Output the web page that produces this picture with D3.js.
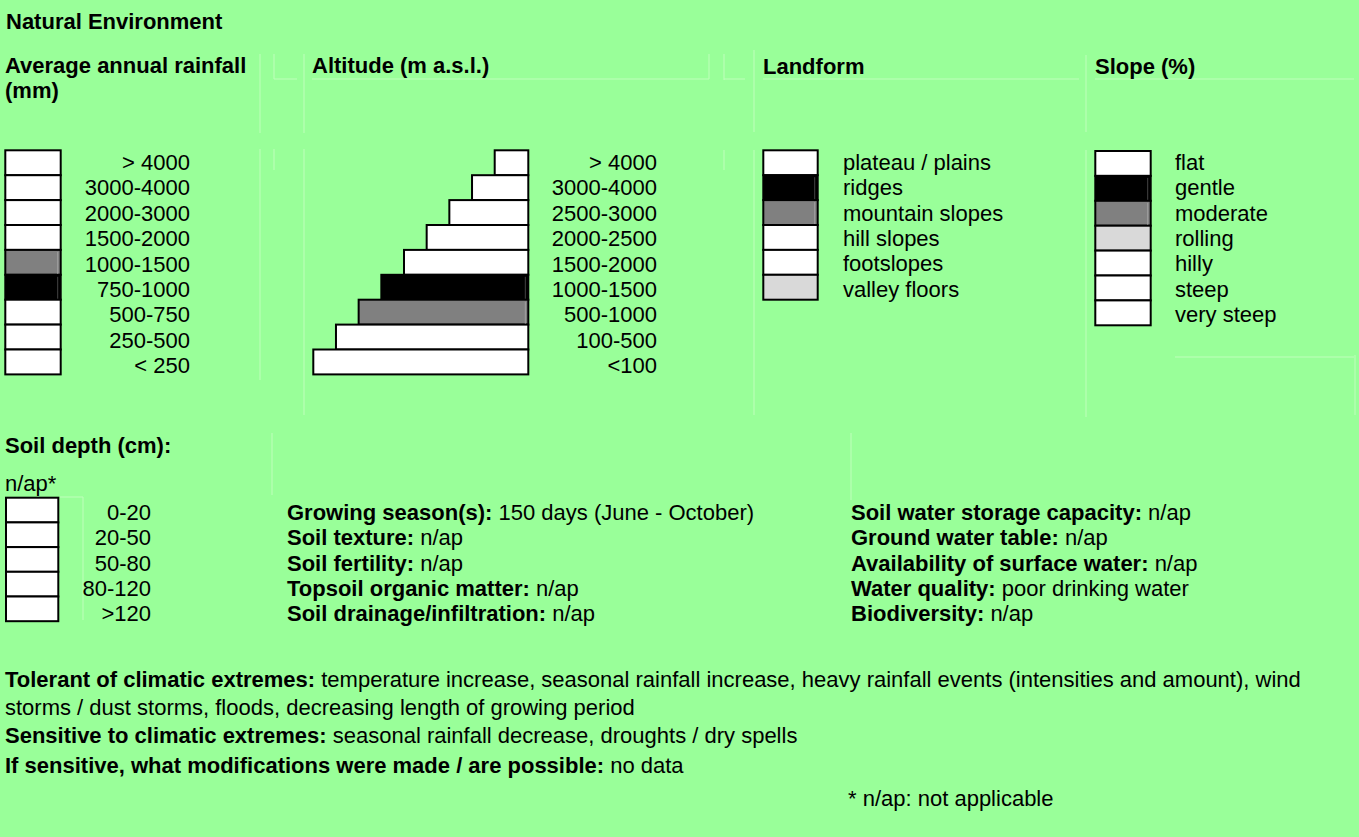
<!DOCTYPE html>
<html>
<head>
<meta charset="utf-8">
<script src="https://cdn.jsdelivr.net/npm/d3@7/dist/d3.min.js"></script>
<style>
  html, body { margin: 0; padding: 0; background: #99ff99; }
  svg { display: block; }
  text { font-family: "Liberation Sans", Arial, sans-serif; font-size: 22px; fill: #000; }
  .b { font-weight: bold; }
</style>
</head>
<body>
<svg id="sheet" width="1359" height="837"></svg>
<script>
// ---- Data: classes and their rating (0 = not applicable, 1 = main, 2 = secondary, 3 = minor) ----
const rainfallClasses = ["> 4000", "3000-4000", "2000-3000", "1500-2000", "1000-1500", "750-1000", "500-750", "250-500", "< 250"];
const rainfallRating  = [0, 0, 0, 0, 2, 1, 0, 0, 0];

const altitudeClasses = ["> 4000", "3000-4000", "2500-3000", "2000-2500", "1500-2000", "1000-1500", "500-1000", "100-500", "<100"];
const altitudeRating  = [0, 0, 0, 0, 0, 1, 2, 0, 0];

const landformClasses = ["plateau / plains", "ridges", "mountain slopes", "hill slopes", "footslopes", "valley floors"];
const landformRating  = [0, 1, 2, 0, 0, 3];

const slopeClasses = ["flat", "gentle", "moderate", "rolling", "hilly", "steep", "very steep"];
const slopeRating  = [0, 1, 2, 3, 0, 0, 0];

const soilDepthClasses = ["0-20", "20-50", "50-80", "80-120", ">120"];
const soilDepthRating  = [0, 0, 0, 0, 0];

const soilProperties = [
  ["Growing season(s):", "150 days (June - October)"],
  ["Soil texture:", "n/ap"],
  ["Soil fertility:", "n/ap"],
  ["Topsoil organic matter:", "n/ap"],
  ["Soil drainage/infiltration:", "n/ap"]
];
const waterProperties = [
  ["Soil water storage capacity:", "n/ap"],
  ["Ground water table:", "n/ap"],
  ["Availability of surface water:", "n/ap"],
  ["Water quality:", "poor drinking water"],
  ["Biodiversity:", "n/ap"]
];
const climateLines = [
  ["Tolerant of climatic extremes:", "temperature increase, seasonal rainfall increase, heavy rainfall events (intensities and amount), wind"],
  ["", "storms / dust storms, floods, decreasing length of growing period"],
  ["Sensitive to climatic extremes:", "seasonal rainfall decrease, droughts / dry spells"],
  ["If sensitive, what modifications were made / are possible:", "no data"]
];

// ---- Drawing ----
const svg = d3.select("#sheet");
const fill = d3.scaleOrdinal().domain([0, 1, 2, 3]).range(["#ffffff", "#000000", "#808080", "#d9d9d9"]);

// faint cell borders of the underlying form
const faint = "#bfffbb";
const faintSegs = [
  [260, 54, 260, 133], [274, 54, 274, 79], [274, 79, 297, 79], [304, 54, 304, 133],
  [260, 149, 260, 380], [274, 149, 274, 170], [304, 149, 304, 415],
  [312, 79, 709, 79], [709, 54, 709, 79], [724, 54, 724, 80], [724, 79, 745, 79], [724, 150, 724, 170],
  [754, 50, 754, 132], [754, 150, 754, 415], [763, 79, 1079, 79],
  [1086, 55, 1086, 132], [1086, 150, 1086, 417], [1095, 79, 1354, 79],
  [1175, 357, 1354, 357], [1355, 355, 1355, 415],
  [272, 433, 272, 495], [60, 497, 83, 497], [83, 497, 83, 620], [851, 433, 851, 500]
];
svg.append("g").selectAll("line").data(faintSegs).join("line")
  .attr("x1", d => d[0]).attr("y1", d => d[1]).attr("x2", d => d[2]).attr("y2", d => d[3])
  .attr("stroke", faint).attr("stroke-width", 1);

function text(x, y, str, cls, anchor) {
  return svg.append("text").attr("x", x).attr("y", y).attr("class", cls || null)
    .attr("text-anchor", anchor || "start").text(str);
}

// headings
text(6, 29, "Natural Environment", "b");
text(5, 73, "Average annual rainfall", "b");
text(5, 98, "(mm)", "b");
text(312, 73, "Altitude (m a.s.l.)", "b");
text(763, 74, "Landform", "b");
text(1095, 74, "Slope (%)", "b");

// generic stacked box column
function boxColumn(classes, rating, opt) {
  const n = classes.length;
  const yBox = d3.scaleLinear().domain([0, n]).range([opt.top, opt.top + n * opt.step]);
  const yLab = d3.scaleLinear().domain([0, n - 1]).range([opt.base0, opt.base1]);
  const xl = i => opt.left ? opt.left(i) : opt.x;
  const wd = i => opt.left ? opt.right - opt.left(i) : opt.w;
  const g = svg.append("g");
  g.selectAll("rect").data(classes).join("rect")
    .attr("x", (d, i) => xl(i))
    .attr("y", (d, i) => yBox(i))
    .attr("width", (d, i) => wd(i))
    .attr("height", yBox(1) - yBox(0))
    .attr("fill", (d, i) => fill(rating[i]))
    .attr("stroke", "#000").attr("stroke-width", 2);
  // soft highlight edge inside shaded cells
  const shaded = classes.map((d, i) => i).filter(i => rating[i] === 1 || rating[i] === 2);
  g.selectAll("line.hl").data(shaded).join("line").attr("class", "hl")
    .attr("x1", i => xl(i) + wd(i) - 3).attr("x2", i => xl(i) + wd(i) - 3)
    .attr("y1", i => yBox(i) + 2).attr("y2", i => yBox(i + 1) - 1)
    .attr("stroke", i => rating[i] === 1 ? "#444" : "#a0a0a0").attr("stroke-width", 1);
  g.selectAll("text").data(classes).join("text")
    .attr("x", opt.labelX).attr("y", (d, i) => yLab(i))
    .attr("text-anchor", opt.anchor).text(d => d);
}

boxColumn(rainfallClasses, rainfallRating, {
  x: 5.3, w: 55.4, top: 150.3, step: 24.9, base0: 170, base1: 373, labelX: 190, anchor: "end"
});

// altitude: staircase, lowest class widest
const altLeft = d3.scaleLinear().domain([0, altitudeClasses.length - 1]).range([494.7, 313.3]);
boxColumn(altitudeClasses, altitudeRating, {
  left: i => altLeft(i), right: 528.3, top: 150.3, step: 24.9, base0: 170, base1: 373, labelX: 657, anchor: "end"
});

boxColumn(landformClasses, landformRating, {
  x: 763.3, w: 54.4, top: 150.3, step: 24.9, base0: 170, base1: 296.7, labelX: 843, anchor: "start"
});

boxColumn(slopeClasses, slopeRating, {
  x: 1095.3, w: 55.4, top: 151, step: 24.9, base0: 170, base1: 322, labelX: 1175, anchor: "start"
});

// soil depth
text(5, 453, "Soil depth (cm):", "b");
text(5, 491, "n/ap*");
boxColumn(soilDepthClasses, soilDepthRating, {
  x: 6, w: 52.3, top: 497.7, step: 24.7, base0: 520, base1: 621, labelX: 151, anchor: "end"
});

// property lists
function propList(rows, x, y0, dy) {
  rows.forEach((r, i) => {
    const t = svg.append("text").attr("x", x).attr("y", y0 + i * dy);
    if (r[0]) t.append("tspan").attr("class", "b").text(r[0] + " ");
    t.append("tspan").text(r[1]);
  });
}
propList(soilProperties, 287, 520, 25.3);
propList(waterProperties, 851, 520, 25.3);

// climate notes
const climateY = [687, 715, 743, 773];
climateLines.forEach((r, i) => {
  const t = svg.append("text").attr("x", 5).attr("y", climateY[i]);
  if (r[0]) t.append("tspan").attr("class", "b").text(r[0] + " ");
  t.append("tspan").text(r[1]);
});

text(848, 806, "* n/ap: not applicable");
</script>
</body>
</html>
